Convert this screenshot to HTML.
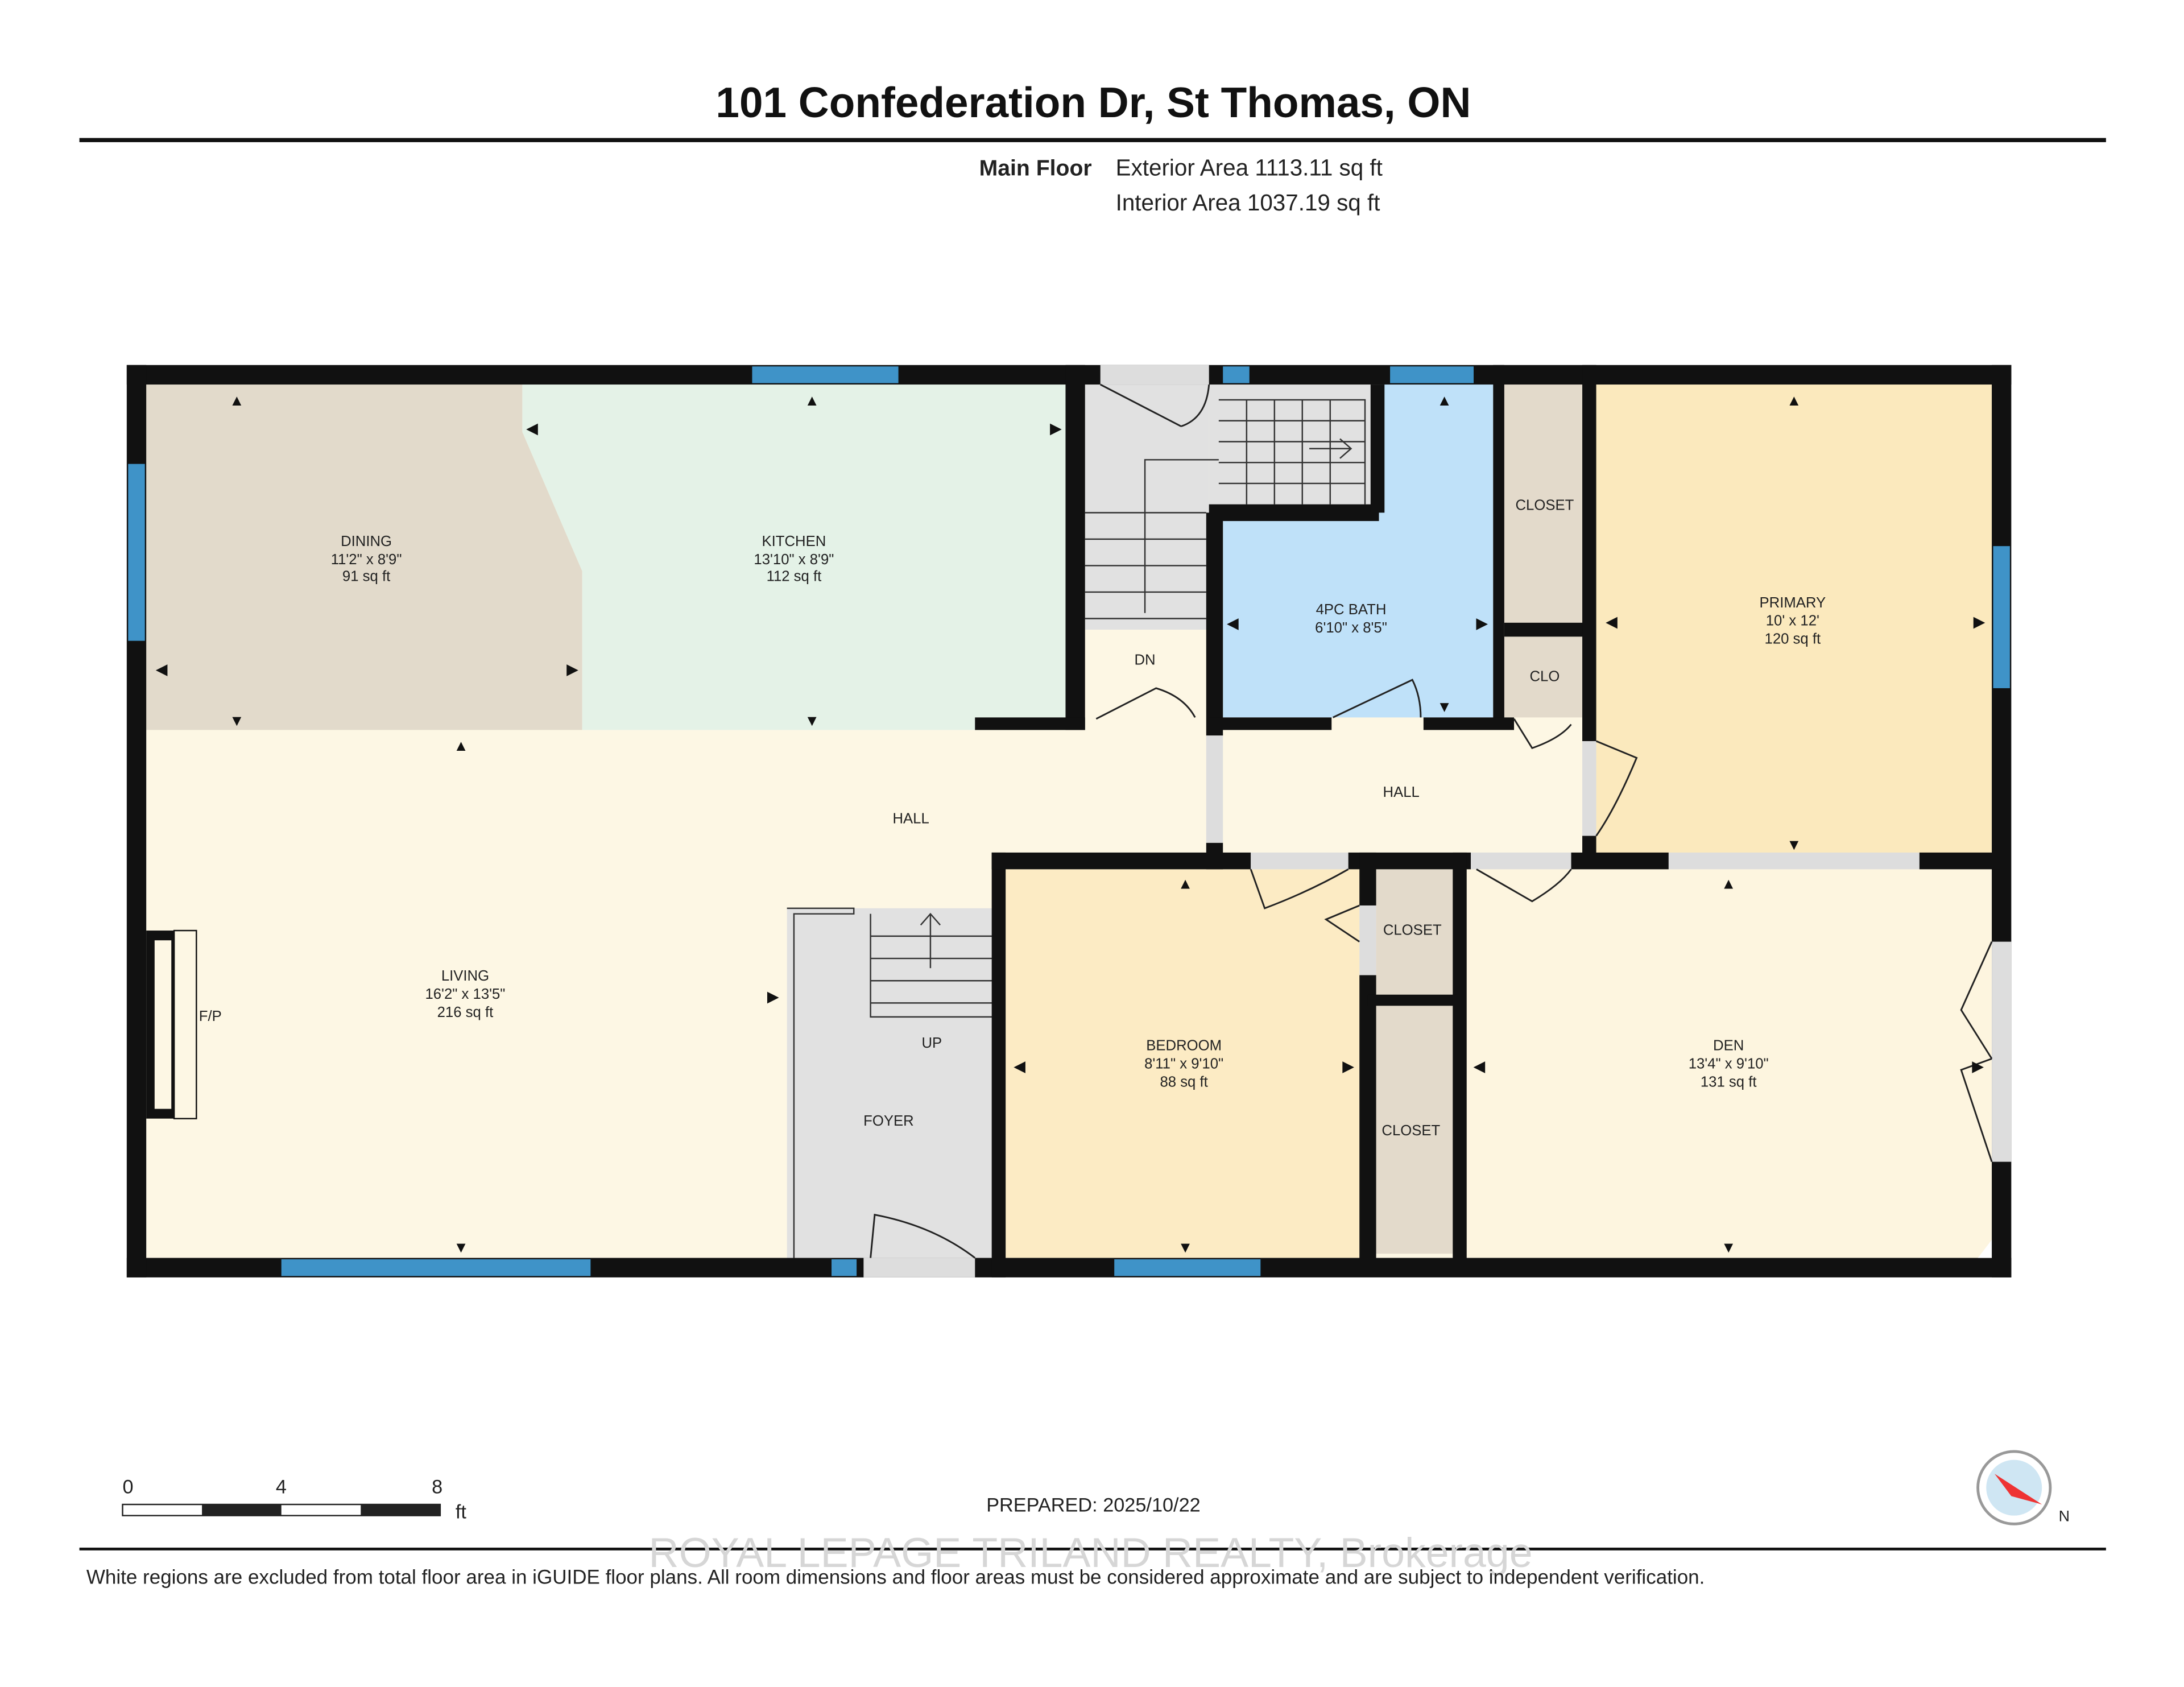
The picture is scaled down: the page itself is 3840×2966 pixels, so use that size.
<!DOCTYPE html>
<html><head><meta charset="utf-8"><style>
html,body{margin:0;padding:0;background:#fff;}
svg{display:block;}
text{font-family:"Liberation Sans",sans-serif;}
</style></head><body>
<svg width="3840" height="2966" viewBox="0 0 1568 1211" xmlns="http://www.w3.org/2000/svg">
<rect width="1568" height="1211" fill="#fff"/>
<text x="785" y="84" font-size="30.5" font-weight="bold" text-anchor="middle" fill="#111">101 Confederation Dr, St Thomas, ON</text>
<rect x="57" y="99" width="1455" height="3" fill="#111"/>
<text x="703" y="126" font-size="16" font-weight="bold" fill="#222">Main Floor</text>
<text x="801" y="126" font-size="16.5" fill="#222">Exterior Area 1113.11 sq ft</text>
<text x="801" y="151" font-size="16.5" fill="#222">Interior Area 1037.19 sq ft</text>

<rect x="105" y="276" width="1325" height="627" fill="#fdf7e4"/>
<polygon points="105,276 375,276 375,310 418,410 418,524 105,524" fill="#e2dacb"/>
<polygon points="375,276 765,276 765,524 418,524 418,410 375,310" fill="#e4f2e7"/>
<rect x="779" y="276" width="89" height="176" fill="#e1e1e1"/>
<rect x="868" y="276" width="122" height="92" fill="#e1e1e1"/>
<rect x="779" y="452" width="89" height="68" fill="#fdf7e4"/>
<polygon points="990,276 1072,276 1072,515 878,515 878,368 990,368" fill="#bfe1f9"/>
<rect x="1080" y="276" width="56" height="171" fill="#e3dacb"/>
<rect x="1080" y="457" width="56" height="58" fill="#e3dacb"/>
<rect x="1146" y="276" width="284" height="338" fill="#fbe9bd"/>
<rect x="565" y="652" width="148" height="251" fill="#e1e1e1"/>
<rect x="722" y="624" width="254" height="279" fill="#fcebc4"/>
<rect x="988" y="624" width="55" height="90" fill="#e3dacb"/>
<rect x="988" y="722" width="55" height="178" fill="#e3dacb"/>
<rect x="1053" y="624" width="377" height="279" fill="#fdf5df"/>

<g stroke="#333" stroke-width="1" fill="none">
<path d="M875,287 H980 V362 M875,302 H980 M875,317 H980 M875,332 H980 M875,347 H980 M895,287 V362 M915,287 V362 M935,287 V362 M955,287 V362"/>
<path d="M779,368 H866 M779,387 H866 M779,406 H866 M779,425 H866 M779,444 H866"/>
<path d="M822,440 V330 H875 M940,322 H970 M962,315 L970,322 L962,329"/>
<path d="M625,656 V730 H713 M625,672 H713 M625,688 H713 M625,704 H713 M625,720 H713 M668,695 V656 M661,664 L668,656 L675,664"/>
<path d="M565,652 H613 V656 H570 V903"/>
</g>

<g fill="#111">
<rect x="91" y="262" width="1353" height="14"/>
<rect x="91" y="903" width="1353" height="14"/>
<rect x="91" y="262" width="14" height="655"/>
<rect x="1430" y="262" width="14" height="655"/>
<rect x="765" y="262" width="14" height="262"/>
<rect x="700" y="515" width="79" height="9"/>
<rect x="866" y="368" width="12" height="160"/>
<rect x="866" y="605" width="12" height="19"/>
<rect x="868" y="362" width="122" height="12"/>
<rect x="984" y="276" width="10" height="92"/>
<rect x="1072" y="262" width="8" height="258"/>
<rect x="868" y="515" width="88" height="9"/>
<rect x="1022" y="515" width="65" height="9"/>
<rect x="1080" y="447" width="60" height="10"/>
<rect x="1136" y="262" width="10" height="270"/>
<rect x="1136" y="600" width="10" height="14"/>
<rect x="712" y="612" width="10" height="305"/>
<rect x="712" y="612" width="186" height="12"/>
<rect x="968" y="612" width="88" height="12"/>
<rect x="1128" y="612" width="70" height="12"/>
<rect x="1378" y="612" width="58" height="12"/>
<rect x="976" y="612" width="12" height="38"/>
<rect x="976" y="700" width="12" height="205"/>
<rect x="1043" y="612" width="10" height="293"/>
<rect x="982" y="714" width="64" height="8"/>
<rect x="105" y="668" width="20" height="135"/>
</g>
<rect x="111" y="675" width="12" height="121" fill="#fdf7e4"/>
<rect x="125" y="668" width="16" height="135" fill="#fdf7e4" stroke="#111" stroke-width="1"/>
<polygon points="1420,903 1430,890 1430,903" fill="#fff"/>
<g fill="#ddd">
<rect x="620" y="903" width="80" height="14"/>
<rect x="790" y="262" width="78" height="14"/>
<rect x="1430" y="676" width="14" height="158"/>
<rect x="1136" y="532" width="10" height="68"/>
<rect x="866" y="528" width="12" height="77"/>
<rect x="898" y="612" width="70" height="12"/>
<rect x="1056" y="612" width="72" height="12"/>
<rect x="1198" y="612" width="180" height="12"/>
<rect x="976" y="650" width="12" height="50"/>
</g>
<g stroke="#222" stroke-width="1.2" fill="none">
<path d="M790,276 L848,306 M868,276 Q866,300 848,306"/>
<path d="M625,903 L628,872 Q670,880 700,903"/>
<path d="M787,516 L830,494 Q850,500 858,515"/>
<path d="M957,515 L1014,488 Q1020,500 1020,515"/>
<path d="M1087,516 L1100,537 Q1120,530 1128,520"/>
<path d="M1146,532 L1175,544 Q1160,580 1146,600"/>
<path d="M898,624 L908,652 Q940,640 968,624"/>
<path d="M1060,624 L1100,647 Q1120,635 1128,624"/>
<path d="M976,650 L952,660 L976,676"/>
<path d="M1430,676 L1408,725 L1430,760 M1430,834 L1408,768 L1430,760"/>
</g>
<g fill="#3f93c8">
<rect x="540" y="263" width="105" height="12"/>
<rect x="878" y="263" width="19" height="12"/>
<rect x="998" y="263" width="60" height="12"/>
<rect x="92" y="333" width="12" height="127"/>
<rect x="1431" y="392" width="12" height="102"/>
<rect x="202" y="904" width="222" height="12"/>
<rect x="597" y="904" width="18" height="12"/>
<rect x="800" y="904" width="105" height="12"/>
</g>
<g font-size="10.5" fill="#222" text-anchor="middle">
<text x="263" y="392">DINING</text><text x="263" y="405">11'2" x 8'9"</text><text x="263" y="417">91 sq ft</text>
<text x="570" y="392">KITCHEN</text><text x="570" y="405">13'10" x 8'9"</text><text x="570" y="417">112 sq ft</text>
<text x="970" y="441">4PC BATH</text><text x="970" y="454">6'10" x 8'5"</text>
<text x="1109" y="366">CLOSET</text><text x="1109" y="489">CLO</text>
<text x="1287" y="436">PRIMARY</text><text x="1287" y="449">10' x 12'</text><text x="1287" y="462">120 sq ft</text>
<text x="822" y="477">DN</text>
<text x="1006" y="572">HALL</text><text x="654" y="591">HALL</text>
<text x="334" y="704">LIVING</text><text x="334" y="717">16'2" x 13'5"</text><text x="334" y="730">216 sq ft</text>
<text x="151" y="733">F/P</text><text x="669" y="752">UP</text><text x="638" y="808">FOYER</text>
<text x="850" y="754">BEDROOM</text><text x="850" y="767">8'11" x 9'10"</text><text x="850" y="780">88 sq ft</text>
<text x="1014" y="671">CLOSET</text><text x="1013" y="815">CLOSET</text>
<text x="1241" y="754">DEN</text><text x="1241" y="767">13'4" x 9'10"</text><text x="1241" y="780">131 sq ft</text>
</g>
<g font-size="11" fill="#111" text-anchor="middle">
<text x="170" y="291">▲</text><text x="170" y="521">▼</text><text x="116" y="484">◀</text><text x="411" y="484">▶</text>
<text x="583" y="291">▲</text><text x="583" y="521">▼</text><text x="382" y="311">◀</text><text x="758" y="311">▶</text>
<text x="1037" y="291">▲</text><text x="1037" y="511">▼</text><text x="885" y="451">◀</text><text x="1064" y="451">▶</text>
<text x="1288" y="291">▲</text><text x="1288" y="610">▼</text><text x="1157" y="450">◀</text><text x="1421" y="450">▶</text>
<text x="331" y="539">▲</text><text x="331" y="899">▼</text><text x="555" y="719">▶</text>
<text x="851" y="638">▲</text><text x="851" y="899">▼</text><text x="732" y="769">◀</text><text x="968" y="769">▶</text>
<text x="1241" y="638">▲</text><text x="1241" y="899">▼</text><text x="1062" y="769">◀</text><text x="1420" y="769">▶</text>
</g>
<g font-size="14" fill="#222">
<text x="88" y="1072">0</text><text x="198" y="1072">4</text><text x="310" y="1072">8</text><text x="327" y="1090">ft</text>
</g>
<rect x="88" y="1080" width="228" height="8" fill="#fff" stroke="#222" stroke-width="1"/>
<rect x="145" y="1080" width="57" height="8" fill="#222"/><rect x="259" y="1080" width="57" height="8" fill="#222"/>
<text x="785" y="1085" font-size="14" fill="#222" text-anchor="middle">PREPARED: 2025/10/22</text>
<circle cx="1446" cy="1068" r="26" fill="#fff" stroke="#999" stroke-width="2"/>
<circle cx="1446" cy="1068" r="20" fill="#cfe6f3"/>
<polygon points="1432,1058 1466,1080 1444,1074" fill="#e33"/>
<text x="1478" y="1092" font-size="11" fill="#222">N</text>
<rect x="57" y="1111" width="1455" height="2" fill="#111"/>
<text x="783" y="1125" font-size="30" fill="#d6d6d6" text-anchor="middle">ROYAL LEPAGE TRILAND REALTY, Brokerage</text>
<text x="62" y="1137" font-size="14.3" fill="#222">White regions are excluded from total floor area in iGUIDE floor plans. All room dimensions and floor areas must be considered approximate and are subject to independent verification.</text>
</svg>
</body></html>
